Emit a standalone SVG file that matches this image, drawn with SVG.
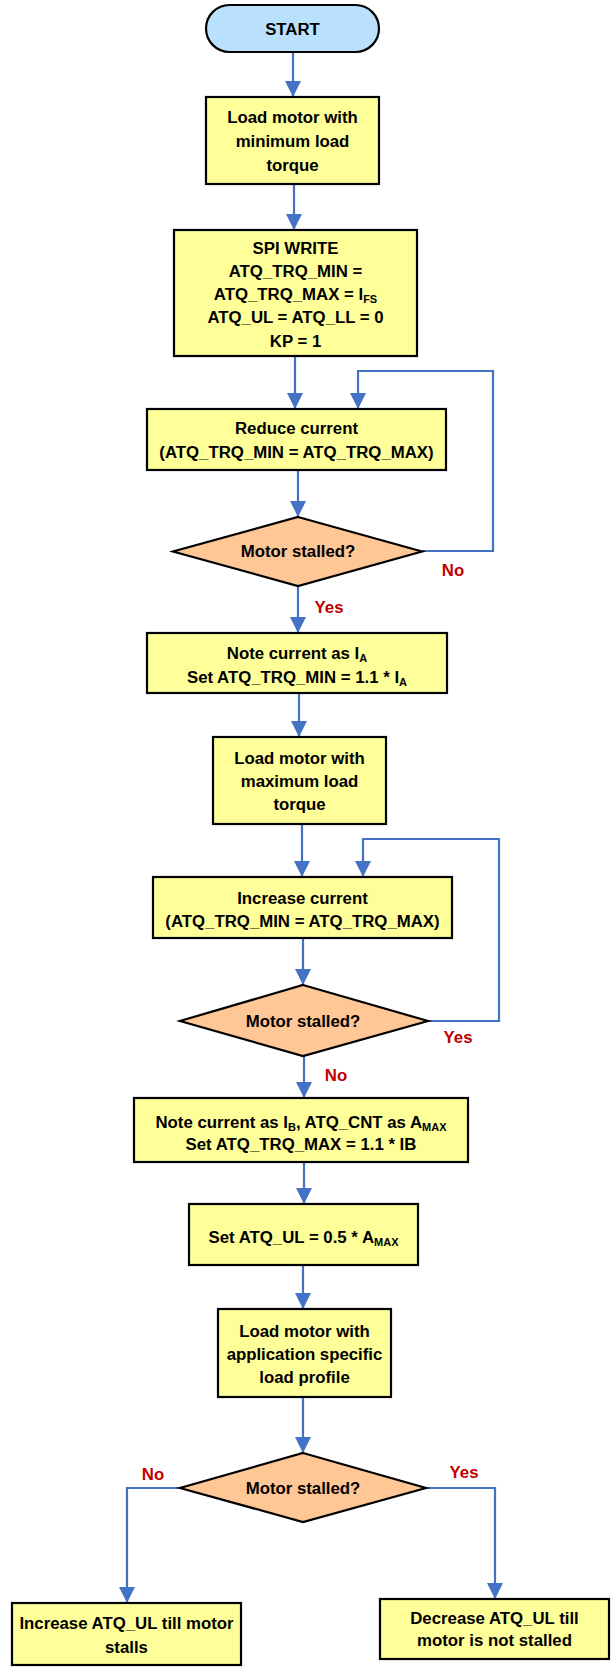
<svg xmlns="http://www.w3.org/2000/svg" width="613" height="1669" viewBox="0 0 613 1669">
<style>
.box{fill:#FFFF99;stroke:#000;stroke-width:2.2}
.start{fill:#B9E0FC;stroke:#000;stroke-width:2.2}
.dia{fill:#FFC696;stroke:#000;stroke-width:2.2}
.t{font-family:"Liberation Sans",Arial,sans-serif;font-weight:bold;font-size:16.8px;fill:#000;text-anchor:middle}
.sub{font-size:11px}
.lbl{font-family:"Liberation Sans",Arial,sans-serif;font-weight:bold;font-size:16.8px;fill:#C00000;text-anchor:middle}
.c{fill:none;stroke:#4472C4;stroke-width:2.2;marker-end:url(#ah)}
</style>
<defs>
<marker id="ah" markerUnits="userSpaceOnUse" markerWidth="16" markerHeight="16" refX="16" refY="8" orient="auto">
<path d="M0,0 L16,8 L0,16 z" fill="#4472C4"/>
</marker>
</defs>
<g id="connectors">
<path class="c" d="M293,52 V97"/>
<path class="c" d="M294,184 V230"/>
<path class="c" d="M295,356 V409"/>
<path class="c" d="M422,551 H493 V371 H358 V409"/>
<path class="c" d="M298,470 V517"/>
<path class="c" d="M298,586 V633"/>
<path class="c" d="M299,693 V737"/>
<path class="c" d="M302,824 V877"/>
<path class="c" d="M428,1021 H499 V839 H363 V877"/>
<path class="c" d="M303,938 V985"/>
<path class="c" d="M304,1056 V1098"/>
<path class="c" d="M304,1162 V1204"/>
<path class="c" d="M303,1265 V1309"/>
<path class="c" d="M303,1397 V1453"/>
<path class="c" d="M180,1488 H127 V1603"/>
<path class="c" d="M426,1488 H495 V1599"/>
</g>
<g id="labels">
<text class="lbl" x="453" y="576">No</text>
<text class="lbl" x="329" y="613">Yes</text>
<text class="lbl" x="458" y="1043">Yes</text>
<text class="lbl" x="336" y="1081">No</text>
<text class="lbl" x="153" y="1480">No</text>
<text class="lbl" x="464" y="1478">Yes</text>
</g>
<g id="start">
<rect class="start" x="206" y="5" width="173" height="47" rx="23.5"/>
<text class="t" x="292.5" y="35">START</text>
</g>
<g id="load-min">
<rect class="box" x="206" y="97" width="173" height="87"/>
<text class="t" x="292.5" y="123">Load motor with</text>
<text class="t" x="292.5" y="147">minimum load</text>
<text class="t" x="292.5" y="171">torque</text>
</g>
<g id="spi-write">
<rect class="box" x="174" y="230" width="243" height="126"/>
<text class="t" x="295.5" y="254">SPI WRITE</text>
<text class="t" x="295.5" y="277">ATQ_TRQ_MIN =</text>
<text class="t" x="295.5" y="300">ATQ_TRQ_MAX = I<tspan class="sub" dy="3">FS</tspan></text>
<text class="t" x="295.5" y="323">ATQ_UL = ATQ_LL = 0</text>
<text class="t" x="295.5" y="347">KP = 1</text>
</g>
<g id="reduce-current">
<rect class="box" x="147" y="409" width="299" height="61"/>
<text class="t" x="296.5" y="434">Reduce current</text>
<text class="t" x="296.5" y="458">(ATQ_TRQ_MIN = ATQ_TRQ_MAX)</text>
</g>
<g id="stalled-1">
<polygon class="dia" points="298,517 422,551.5 298,586 173,551.5"/>
<text class="t" x="298" y="557">Motor stalled?</text>
</g>
<g id="note-ia">
<rect class="box" x="147" y="633" width="300" height="60"/>
<text class="t" x="297" y="659">Note current as I<tspan class="sub" dy="3">A</tspan></text>
<text class="t" x="297" y="683">Set ATQ_TRQ_MIN = 1.1 * I<tspan class="sub" dy="3">A</tspan></text>
</g>
<g id="load-max">
<rect class="box" x="213" y="737" width="173" height="87"/>
<text class="t" x="299.5" y="764">Load motor with</text>
<text class="t" x="299.5" y="787">maximum load</text>
<text class="t" x="299.5" y="810">torque</text>
</g>
<g id="increase-current">
<rect class="box" x="153" y="877" width="299" height="61"/>
<text class="t" x="302.5" y="904">Increase current</text>
<text class="t" x="302.5" y="927">(ATQ_TRQ_MIN = ATQ_TRQ_MAX)</text>
</g>
<g id="stalled-2">
<polygon class="dia" points="303,985 428,1021 303,1056 180,1021"/>
<text class="t" x="303" y="1027">Motor stalled?</text>
</g>
<g id="note-ib">
<rect class="box" x="134" y="1098" width="334" height="64"/>
<text class="t" x="301" y="1128">Note current as I<tspan class="sub" dy="3">B</tspan><tspan dy="-3">, ATQ_CNT as A</tspan><tspan class="sub" dy="3">MAX</tspan></text>
<text class="t" x="301" y="1150">Set ATQ_TRQ_MAX = 1.1 * IB</text>
</g>
<g id="set-ul">
<rect class="box" x="189" y="1204" width="229" height="61"/>
<text class="t" x="303.5" y="1243">Set ATQ_UL = 0.5 * A<tspan class="sub" dy="3">MAX</tspan></text>
</g>
<g id="load-app">
<rect class="box" x="218" y="1309" width="173" height="88"/>
<text class="t" x="304.5" y="1337">Load motor with</text>
<text class="t" x="304.5" y="1360">application specific</text>
<text class="t" x="304.5" y="1383">load profile</text>
</g>
<g id="stalled-3">
<polygon class="dia" points="303,1453 426,1488 303,1522 180,1488"/>
<text class="t" x="303" y="1494">Motor stalled?</text>
</g>
<g id="increase-ul">
<rect class="box" x="12" y="1603" width="229" height="62"/>
<text class="t" x="126.5" y="1629">Increase ATQ_UL till motor</text>
<text class="t" x="126.5" y="1653">stalls</text>
</g>
<g id="decrease-ul">
<rect class="box" x="380" y="1599" width="229" height="60"/>
<text class="t" x="494.5" y="1624">Decrease ATQ_UL till</text>
<text class="t" x="494.5" y="1646">motor is not stalled</text>
</g>
</svg>
